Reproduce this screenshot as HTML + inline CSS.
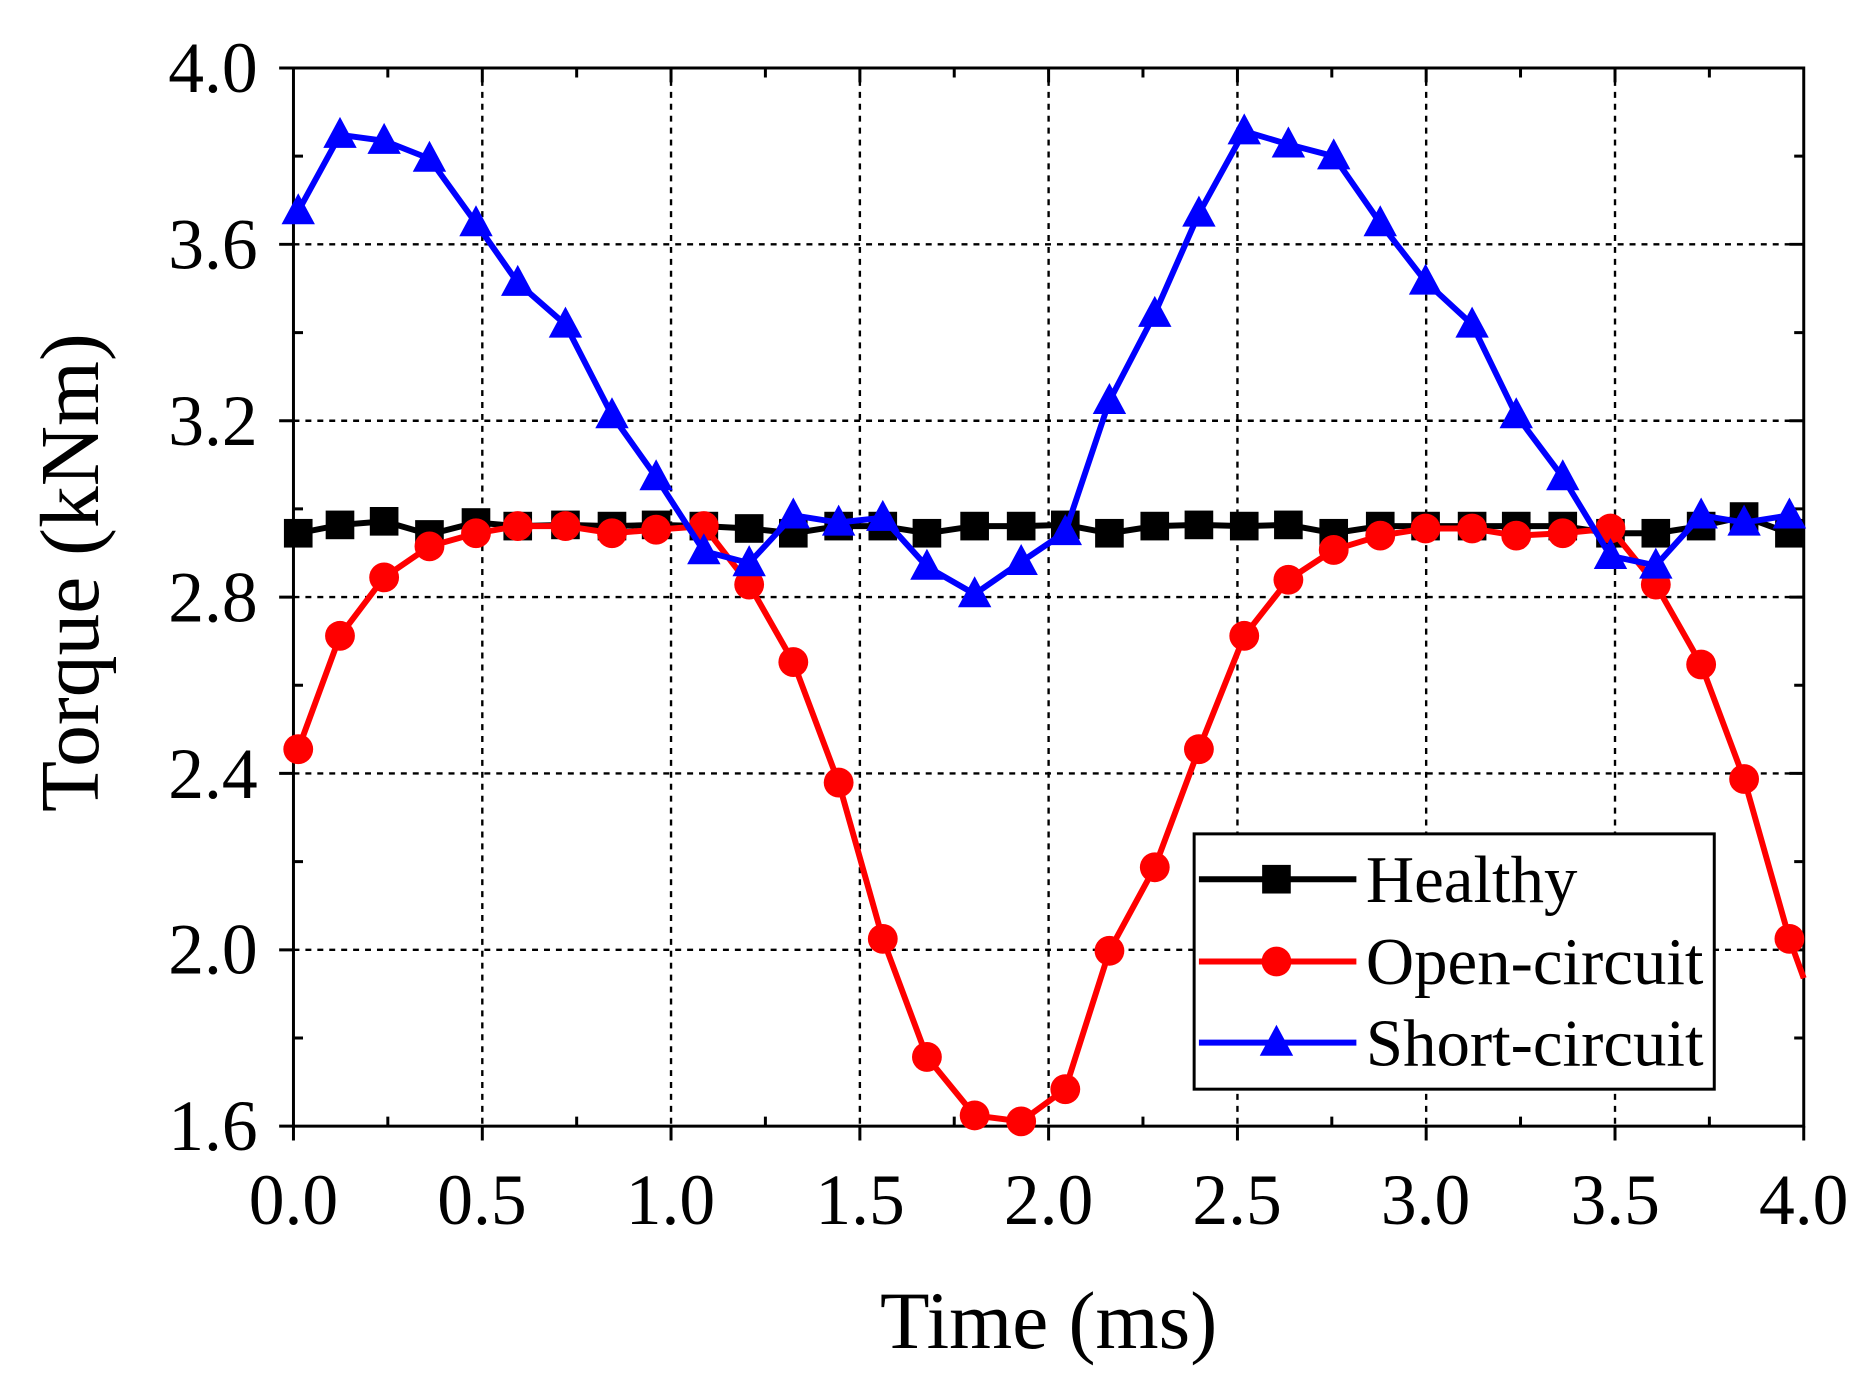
<!DOCTYPE html>
<html><head><meta charset="utf-8"><style>html,body{margin:0;padding:0;background:#fff}svg{display:block}</style></head>
<body>
<svg width="1861" height="1388" viewBox="0 0 1560 1163.5" preserveAspectRatio="none" xmlns="http://www.w3.org/2000/svg" font-family="'Liberation Serif', serif">
<defs>
<marker id="sq" viewBox="-14 -14 28 28" markerWidth="28" markerHeight="28" markerUnits="userSpaceOnUse"><rect x="-12" y="-12" width="24" height="24" fill="#000"/></marker>
<marker id="ci" viewBox="-14 -14 28 28" markerWidth="28" markerHeight="28" markerUnits="userSpaceOnUse"><circle r="12.5" fill="#f00"/></marker>
<marker id="tr" viewBox="-16 -16 32 32" markerWidth="32" markerHeight="32" markerUnits="userSpaceOnUse"><polygon points="0,-15 14,11 -14,11" fill="#00f"/></marker>
</defs>
<g stroke="#000" stroke-width="2" stroke-dasharray="5,5">
<line x1="404.3" y1="57" x2="404.3" y2="944"/><line x1="562.5" y1="57" x2="562.5" y2="944"/><line x1="720.8" y1="57" x2="720.8" y2="944"/><line x1="879" y1="57" x2="879" y2="944"/><line x1="1037.3" y1="57" x2="1037.3" y2="944"/><line x1="1195.5" y1="57" x2="1195.5" y2="944"/><line x1="1353.8" y1="57" x2="1353.8" y2="944"/>
<line x1="246" y1="204.8" x2="1512" y2="204.8"/><line x1="246" y1="352.7" x2="1512" y2="352.7"/><line x1="246" y1="500.5" x2="1512" y2="500.5"/><line x1="246" y1="648.3" x2="1512" y2="648.3"/><line x1="246" y1="796.2" x2="1512" y2="796.2"/>
</g>
<rect x="246" y="57" width="1266" height="887" fill="none" stroke="#000" stroke-width="2.5"/>
<g stroke="#000" stroke-width="2.5">
<path d="M246 57h-12M246 204.8h-12M246 352.7h-12M246 500.5h-12M246 648.3h-12M246 796.2h-12M246 944h-12"/>
<path d="M246 130.9h8M246 278.8h8M246 426.6h8M246 574.4h8M246 722.3h8M246 870.1h8"/>
<path d="M1512 130.9h-8M1512 278.8h-8M1512 426.6h-8M1512 574.4h-8M1512 722.3h-8M1512 870.1h-8M1512 204.8h-12M1512 352.7h-12M1512 500.5h-12M1512 648.3h-12M1512 796.2h-12"/>
<path d="M246 944v12M404.3 944v12M562.5 944v12M720.8 944v12M879 944v12M1037.3 944v12M1195.5 944v12M1353.8 944v12M1512 944v12"/>
<path d="M325.1 944v-8M483.4 944v-8M641.6 944v-8M799.9 944v-8M958.1 944v-8M1116.4 944v-8M1274.6 944v-8M1432.9 944v-8"/>
<path d="M325.1 57v8M483.4 57v8M641.6 57v8M799.9 57v8M958.1 57v8M1116.4 57v8M1274.6 57v8M1432.9 57v8M404.3 57v12M562.5 57v12M720.8 57v12M879 57v12M1037.3 57v12M1195.5 57v12M1353.8 57v12"/>
</g>
<g font-size="60" text-anchor="end" fill="#000">
<text x="216" y="77">4.0</text><text x="216" y="225">3.6</text><text x="216" y="373">3.2</text><text x="216" y="521">2.8</text><text x="216" y="669">2.4</text><text x="216" y="816">2.0</text><text x="216" y="964">1.6</text>
</g>
<g font-size="60" text-anchor="middle" fill="#000">
<text x="246" y="1026">0.0</text><text x="404" y="1026">0.5</text><text x="562" y="1026">1.0</text><text x="721" y="1026">1.5</text><text x="879" y="1026">2.0</text><text x="1037" y="1026">2.5</text><text x="1195" y="1026">3.0</text><text x="1354" y="1026">3.5</text><text x="1512" y="1026">4.0</text>
</g>
<text x="879" y="1130" font-size="68" text-anchor="middle">Time (ms)</text>
<text transform="translate(82,480) rotate(-90)" font-size="70" text-anchor="middle">Torque (kNm)</text>
<polyline fill="none" stroke="#000" stroke-width="5" marker-start="url(#sq)" marker-mid="url(#sq)" marker-end="url(#sq)" points="250,447 285,440 322,437 360,448 399,438 434,441 474,440 513,441 550,440 590,441 628,443 665,447 703,441 740,441 777,447 817,441 856,441 893,440 930,447 968,441 1005,440 1043,441 1080,440 1118,447 1157,441 1195,441 1234,441 1271,441 1310,441 1350,447 1388,447 1426,441 1462,433 1500,447"/>
<polyline fill="none" stroke="#f00" stroke-width="5" marker-start="url(#ci)" marker-mid="url(#ci)" points="250,628 285,533 322,484 360,458 399,447 434,441 474,441 513,447 550,444 590,441 628,490 665,555 703,656 740,787 777,886 817,935 856,940 893,913 930,797 968,727 1005,628 1043,533 1080,486 1118,461 1157,449 1195,443 1234,443 1271,449 1310,447 1350,443 1388,490 1426,557 1462,653 1500,787 1512,820"/>
<polyline fill="none" stroke="#00f" stroke-width="5" marker-start="url(#tr)" marker-mid="url(#tr)" marker-end="url(#tr)" points="250,177 285,113 322,118 360,133 399,187 434,237 474,272 513,348 550,400 590,462 628,472 665,432 703,438 740,434 777,475 817,498 856,471 893,446 930,336 968,263 1005,179 1043,110 1080,121 1118,131 1157,187 1195,236 1234,272 1271,348 1310,400 1350,466 1388,474 1426,432 1462,438 1500,432"/>
<rect x="1001" y="699" width="436" height="214" fill="#fff" stroke="#000" stroke-width="2.5"/>
<line x1="1005" y1="737" x2="1137" y2="737" stroke="#000" stroke-width="5"/><rect x="1058" y="725" width="24" height="24" fill="#000"/>
<line x1="1005" y1="806" x2="1137" y2="806" stroke="#f00" stroke-width="5"/><circle cx="1070" cy="806" r="12.5" fill="#f00"/>
<line x1="1005" y1="874" x2="1137" y2="874" stroke="#00f" stroke-width="5"/><polygon points="1070,859 1084,885 1056,885" fill="#00f"/>
<g font-size="56" fill="#000"><text x="1145" y="756">Healthy</text><text x="1145" y="825">Open-circuit</text><text x="1145" y="893">Short-circuit</text></g>
</svg>
</body></html>
